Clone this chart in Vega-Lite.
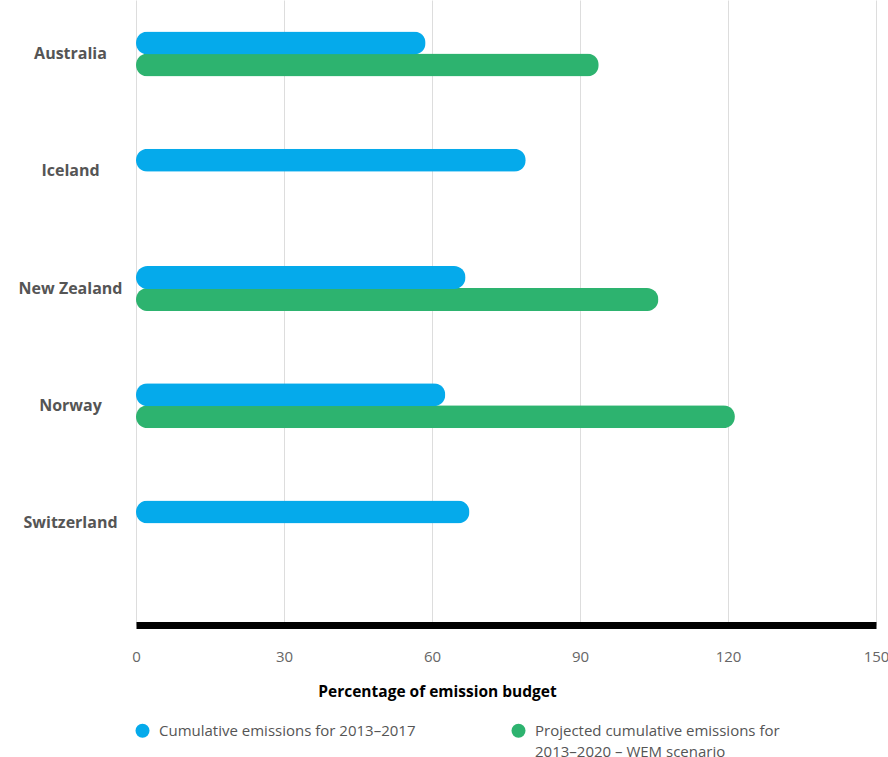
{
  "$schema": "https://vega.github.io/schema/vega-lite/v6.json",
  "autosize": "none",
  "width": 740,
  "height": 625,
  "padding": {"left": 136, "top": 0, "right": 12, "bottom": 132},
  "background": "white",
  "config": {
    "view": {"stroke": null},
    "font": "Open Sans"
  },
  "data": {
    "values": [
      {"country": "Australia", "series": "Cumulative emissions for 2013–2017", "value": 58.7},
      {"country": "Australia", "series": "Projected cumulative emissions for 2013–2020 – WEM scenario", "value": 93.8},
      {"country": "Iceland", "series": "Cumulative emissions for 2013–2017", "value": 79.0},
      {"country": "New Zealand", "series": "Cumulative emissions for 2013–2017", "value": 66.8},
      {"country": "New Zealand", "series": "Projected cumulative emissions for 2013–2020 – WEM scenario", "value": 105.9},
      {"country": "Norway", "series": "Cumulative emissions for 2013–2017", "value": 62.7},
      {"country": "Norway", "series": "Projected cumulative emissions for 2013–2020 – WEM scenario", "value": 121.4},
      {"country": "Switzerland", "series": "Cumulative emissions for 2013–2017", "value": 67.6}
    ]
  },
  "encoding": {
    "y": {
      "field": "country",
      "type": "nominal",
      "sort": ["Australia", "Iceland", "New Zealand", "Norway", "Switzerland"],
      "scale": {"paddingInner": 0.079, "paddingOuter": 0.2045, "align": 0},
      "axis": {
        "title": null,
        "domain": false,
        "ticks": false,
        "grid": false,
        "labelAlign": "center",
        "labelPadding": 66,
        "labelFontSize": 16,
        "labelFontWeight": "bold",
        "labelColor": "#555555"
      }
    },
    "x": {
      "field": "value",
      "type": "quantitative",
      "scale": {"domain": [0, 150], "nice": false},
      "axis": {
        "title": "Percentage of emission budget",
        "titleFontSize": 15.5,
        "titleFontWeight": "bold",
        "titleColor": "#000000",
        "titlePadding": 20,
        "titleX": 301,
        "titleAnchor": null,
        "titleAlign": "center",
        "values": [0, 30, 60, 90, 120, 150],
        "domainColor": "#000000",
        "domainWidth": 7,
        "ticks": false,
        "labelPadding": 24,
        "labelFontSize": 15,
        "labelColor": "#666666",
        "labelFlush": false,
        "grid": true,
        "gridColor": "#dddddd",
        "gridWidth": 1
      }
    },
    "color": {
      "field": "series",
      "type": "nominal",
      "scale": {
        "domain": ["Cumulative emissions for 2013–2017", "Projected cumulative emissions for 2013–2020 – WEM scenario"],
        "range": ["#05aaeb", "#2db36f"]
      },
      "legend": {
        "title": null,
        "orient": "none",
        "legendX": -1,
        "legendY": 723,
        "direction": "horizontal",
        "symbolType": "circle",
        "symbolSize": 196,
        "symbolStrokeWidth": 0,
        "labelFontSize": 15,
        "labelColor": "#555555",
        "labelOffset": 9,
        "labelLimit": 400,
        "columnPadding": 95,
        "labelExpr": "datum.label == 'Projected cumulative emissions for 2013–2020 – WEM scenario' ? ['Projected cumulative emissions for', '2013–2020 – WEM scenario'] : [datum.label, '']",
        "encode": {
          "labels": {"update": {"lineHeight": {"value": 21}}}
        }
      }
    }
  },
  "layer": [
    {
      "transform": [{"filter": "datum.series != 'Cumulative emissions for 2013–2017'"}],
      "mark": {"type": "bar", "height": 23, "yOffset": 11, "cornerRadius": 11.5}
    },
    {
      "transform": [{"filter": "datum.series == 'Cumulative emissions for 2013–2017'"}],
      "mark": {"type": "bar", "height": 23, "yOffset": -11, "cornerRadius": 11.5}
    }
  ]
}
